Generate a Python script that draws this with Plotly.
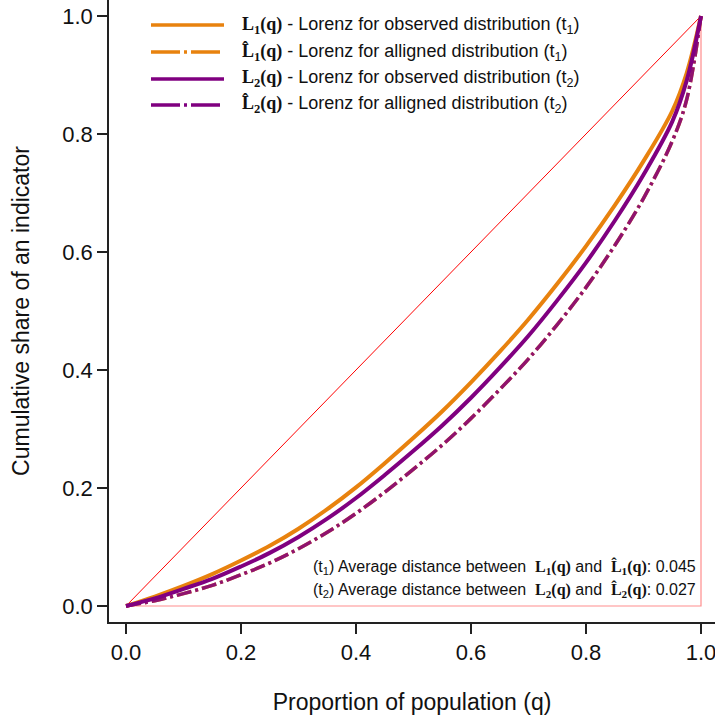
import plotly.graph_objects as go

# ---- data ----
q = [0.0, 0.05, 0.10, 0.15, 0.20, 0.25, 0.30, 0.35, 0.40, 0.45, 0.50,
     0.55, 0.60, 0.65, 0.70, 0.75, 0.80, 0.85, 0.90, 0.95, 0.975, 1.0]
L1_obs = [0.0, 0.016, 0.034, 0.054, 0.077, 0.102, 0.131, 0.164, 0.201, 0.242, 0.285,
          0.330, 0.379, 0.431, 0.486, 0.546, 0.610, 0.679, 0.754, 0.839, 0.903, 1.0]
L2_obs = [0.0, 0.013, 0.029, 0.046, 0.067, 0.090, 0.117, 0.148, 0.183, 0.222, 0.263,
          0.306, 0.353, 0.404, 0.458, 0.518, 0.582, 0.653, 0.731, 0.821, 0.890, 1.0]
L1_hat = [0.0, 0.009, 0.021, 0.035, 0.053, 0.073, 0.097, 0.125, 0.157, 0.193, 0.232,
          0.273, 0.318, 0.367, 0.419, 0.477, 0.540, 0.611, 0.691, 0.788, 0.858, 1.0]
L2_hat = [0.0, 0.009, 0.021, 0.035, 0.053, 0.073, 0.097, 0.125, 0.157, 0.193, 0.232,
          0.273, 0.318, 0.367, 0.419, 0.477, 0.540, 0.611, 0.691, 0.788, 0.858, 1.0]
equality_q = [0.0, 1.0]
equality_L = [0.0, 1.0]
max_ineq_q = [0.0, 1.0, 1.0]
max_ineq_L = [0.0, 0.0, 1.0]
avg_dist = [0.045, 0.027]
tick_vals = [0.0, 0.2, 0.4, 0.6, 0.8, 1.0]

ORANGE = "#E8820E"
PURPLE = "#800080"
SANS = "Liberation Sans, Arial, sans-serif"
SERIF = "Liberation Serif"
DASHDOT = "15px,4px,3px,4px"

W, H = 715, 717
ML, MR, MT, MB = 109, 0, 0, 95
PW, PH = W - ML - MR, H - MT - MB

def px_x(p):
    return (p - ML) / PW

def px_y(p):
    return (PH + MT - p) / PH

fig = go.Figure()
fig.add_trace(go.Scatter(x=max_ineq_q, y=max_ineq_L, mode="lines",
                         line=dict(color="rgba(255,0,0,0.45)", width=1.2), hoverinfo="skip"))
fig.add_trace(go.Scatter(x=equality_q, y=equality_L, mode="lines",
                         line=dict(color="#FF0000", width=1), hoverinfo="skip"))
fig.add_trace(go.Scatter(x=q, y=L1_obs, mode="lines", line=dict(color=ORANGE, width=4, shape="spline")))
fig.add_trace(go.Scatter(x=q, y=L1_hat, mode="lines", line=dict(color=ORANGE, width=3.5, dash=DASHDOT, shape="spline")))
fig.add_trace(go.Scatter(x=q, y=L2_obs, mode="lines", line=dict(color=PURPLE, width=4, shape="spline")))
fig.add_trace(go.Scatter(x=q, y=L2_hat, mode="lines", opacity=0.85,
                         line=dict(color=PURPLE, width=3.5, dash=DASHDOT, shape="spline")))

def bold_L(i, hat=False):
    L = "L\u0302" if hat else "L"
    return f'<span style="font-family:{SERIF}"><b>{L}<sub>{i}</sub>(q)</b></span>'

legend_items = [
    (ORANGE, "solid", bold_L(1) + " - Lorenz for observed distribution (t<sub>1</sub>)"),
    (ORANGE, "29px,4px,3px,4px", bold_L(1, True) + " - Lorenz for alligned distribution (t<sub>1</sub>)"),
    (PURPLE, "solid", bold_L(2) + " - Lorenz for observed distribution (t<sub>2</sub>)"),
    (PURPLE, "29px,4px,3px,4px", bold_L(2, True) + " - Lorenz for alligned distribution (t<sub>2</sub>)"),
]
row_y = [25, 52, 79, 105]
shapes = []
annotations = []
for (col, dash, txt), ry in zip(legend_items, row_y):
    shapes.append(dict(type="line", xref="paper", yref="paper",
                       x0=px_x(151), x1=px_x(224), y0=px_y(ry), y1=px_y(ry),
                       line=dict(color=col, width=3.5, dash=dash)))
    annotations.append(dict(xref="paper", yref="paper", x=px_x(240), y=px_y(ry),
                            xanchor="left", yanchor="middle", showarrow=False, text=txt,
                            font=dict(family=SANS, size=18, color="#111")))

for i, (d, ry) in enumerate(zip(avg_dist, [567, 590]), start=1):
    txt = (f"(t<sub>{i}</sub>) Average distance between  {bold_L(i)} and  "
           f"{bold_L(i, True)}: {d:.3f}")
    annotations.append(dict(xref="paper", yref="paper", x=px_x(698), y=px_y(ry),
                            xanchor="right", yanchor="middle", showarrow=False, text=txt,
                            font=dict(family=SANS, size=16, color="#111")))

fig.update_layout(
    width=W, height=H,
    margin=dict(l=ML, r=MR, t=MT, b=MB),
    paper_bgcolor="white", plot_bgcolor="white",
    showlegend=False,
    font=dict(family=SANS, size=22, color="#111"),
    shapes=shapes, annotations=annotations,
    xaxis=dict(range=[(ML - 126) / 575, (W - 126) / 575], tickvals=tick_vals, tickformat=".1f",
               showgrid=False, zeroline=False, showline=True, linecolor="#222", linewidth=1.5,
               ticks="outside", ticklen=10, tickwidth=1.5, tickcolor="#222",
               ticklabeloverflow="allow",
               tickfont=dict(size=22), title=dict(text="Proportion of population (q)", standoff=30,
                                                  font=dict(size=23))),
    yaxis=dict(range=[(606 - 622) / 590, 606 / 590], tickvals=tick_vals, tickformat=".1f",
               showgrid=False, zeroline=False, showline=True, linecolor="#222", linewidth=1.5,
               ticks="outside", ticklen=10, tickwidth=1.5, tickcolor="#222",
               ticklabeloverflow="allow",
               tickfont=dict(size=22), title=dict(text="Cumulative share of an indicator", standoff=26,
                                                  font=dict(size=23))),
)

fig.write_html("out.html", config={"displayModeBar": False},
               post_script="document.body.style.margin='0';document.body.style.overflow='hidden';")
